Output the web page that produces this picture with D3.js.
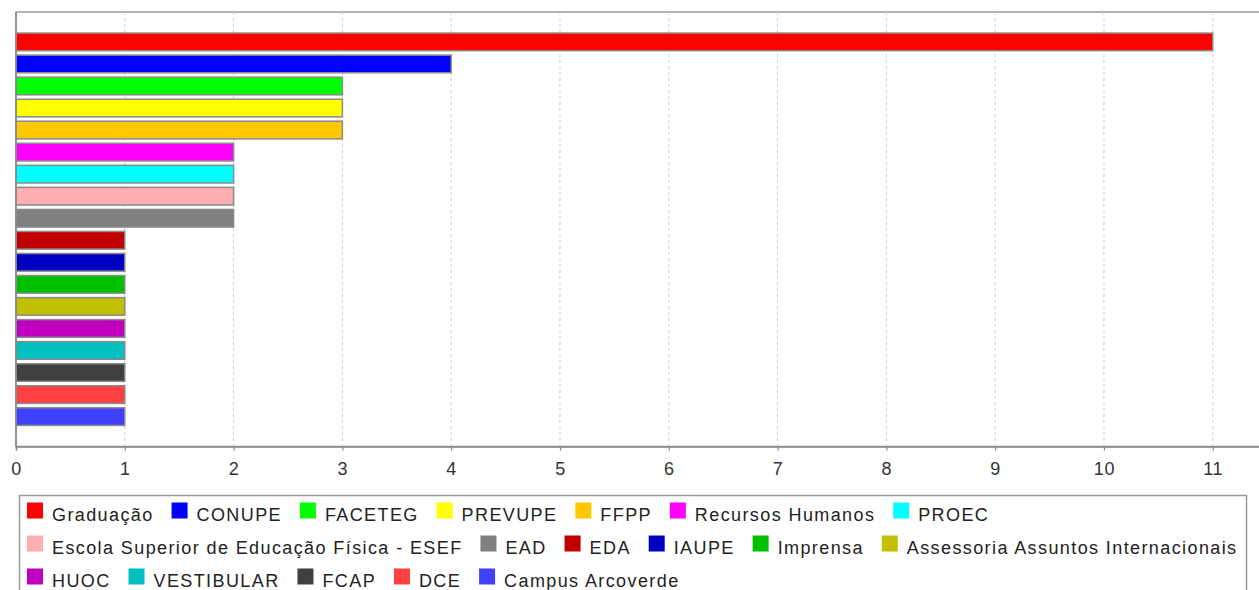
<!DOCTYPE html>
<html>
<head>
<meta charset="utf-8">
<script src="https://cdn.jsdelivr.net/npm/d3@7/dist/d3.min.js"></script>
<style>
  html, body { margin: 0; padding: 0; background: #fff; overflow: hidden; }
  svg { display: block; }
</style>
</head>
<body>
<svg id="chart" width="1259" height="590"></svg>
<script>
const categories = [
  "Graduação", "CONUPE", "FACETEG", "PREVUPE", "FFPP", "Recursos Humanos", "PROEC",
  "Escola Superior de Educação Física - ESEF", "EAD", "EDA", "IAUPE", "Imprensa",
  "Assessoria Assuntos Internacionais", "HUOC", "VESTIBULAR", "FCAP", "DCE", "Campus Arcoverde"
];
const values = [11, 4, 3, 3, 3, 2, 2, 2, 2, 1, 1, 1, 1, 1, 1, 1, 1, 1];
const colors = [
  "#FF0000", "#0000FF", "#00FF00", "#FFFF00", "#FFC800", "#FF00FF", "#00FFFF",
  "#FFAFAF", "#808080", "#C00000", "#0000C0", "#00C000", "#C0C000", "#C000C0",
  "#00C0C0", "#404040", "#FF4040", "#4040FF"
];
const xTicks = [0, 1, 2, 3, 4, 5, 6, 7, 8, 9, 10, 11];

const svg = d3.select("#chart");
const font = "'Liberation Sans', Arial, sans-serif";

const plot = { left: 16, top: 12, right: 1272.6, bottom: 446.5 };

const x = d3.scaleLinear().domain([0, 11.55]).range([plot.left, plot.right]);
const y = d3.scaleBand().domain(categories).range([plot.top, plot.bottom])
  .paddingInner(0.2).paddingOuter(0.956);

// plot background
svg.append("rect")
  .attr("x", plot.left).attr("y", plot.top)
  .attr("width", plot.right - plot.left).attr("height", plot.bottom - plot.top)
  .attr("fill", "#fff").attr("stroke", "#9a9a9a").attr("stroke-width", 1.5);

// gridlines
svg.append("g").selectAll("line").data(xTicks.filter(d => d > 0)).join("line")
  .attr("x1", d => x(d)).attr("x2", d => x(d))
  .attr("y1", plot.top).attr("y2", plot.bottom)
  .attr("stroke", "#cfcfcf").attr("stroke-width", 1)
  .attr("stroke-dasharray", "3,3");

// bars
svg.append("g").selectAll("rect").data(categories).join("rect")
  .attr("x", x(0))
  .attr("y", d => y(d))
  .attr("width", (d, i) => x(values[i]) - x(0))
  .attr("height", y.bandwidth())
  .attr("fill", (d, i) => colors[i])
  .attr("stroke", "#8a8a8a").attr("stroke-width", 1.5);

// left axis line
svg.append("line")
  .attr("x1", plot.left).attr("x2", plot.left)
  .attr("y1", plot.top).attr("y2", plot.bottom)
  .attr("stroke", "#888").attr("stroke-width", 1.5);

// bottom axis
const xAxis = d3.axisBottom(x).tickValues(xTicks).tickSize(4).tickPadding(12)
  .tickFormat(d3.format("d"));
const gx = svg.append("g").attr("transform", `translate(0,${plot.bottom})`).call(xAxis);
gx.select(".domain").attr("stroke", "#888").attr("stroke-width", 1.5);
gx.selectAll(".tick line").attr("stroke", "#888").attr("stroke-width", 1.2);
gx.selectAll(".tick text")
  .attr("font-family", font).attr("font-size", 18).attr("fill", "#333")
  .attr("letter-spacing", 0.6);

// legend
const legend = { left: 19.5, top: 495.5, right: 1246.5 };
svg.append("rect")
  .attr("x", legend.left).attr("y", legend.top)
  .attr("width", legend.right - legend.left).attr("height", 200)
  .attr("fill", "#fff").attr("stroke", "#999").attr("stroke-width", 1.5);

const lg = svg.append("g");
let cx = 27, row = 0;
const rowPitch = 33;
const ls = 1.4;
categories.forEach((c, i) => {
  const t = lg.append("text")
    .attr("font-family", font).attr("font-size", 18).attr("fill", "#222")
    .attr("letter-spacing", ls)
    .text(c);
  const w = t.node().getComputedTextLength();
  if (cx + 25 + w - ls > legend.right - 3) { row += 1; cx = 27; }
  const baseY = 521 + row * rowPitch;
  lg.append("rect")
    .attr("x", cx).attr("y", baseY - 18.5)
    .attr("width", 16).attr("height", 16)
    .attr("fill", colors[i]);
  t.attr("x", cx + 25).attr("y", baseY);
  cx = cx + 25 + w - ls + 19.3;
});
</script>
</body>
</html>
